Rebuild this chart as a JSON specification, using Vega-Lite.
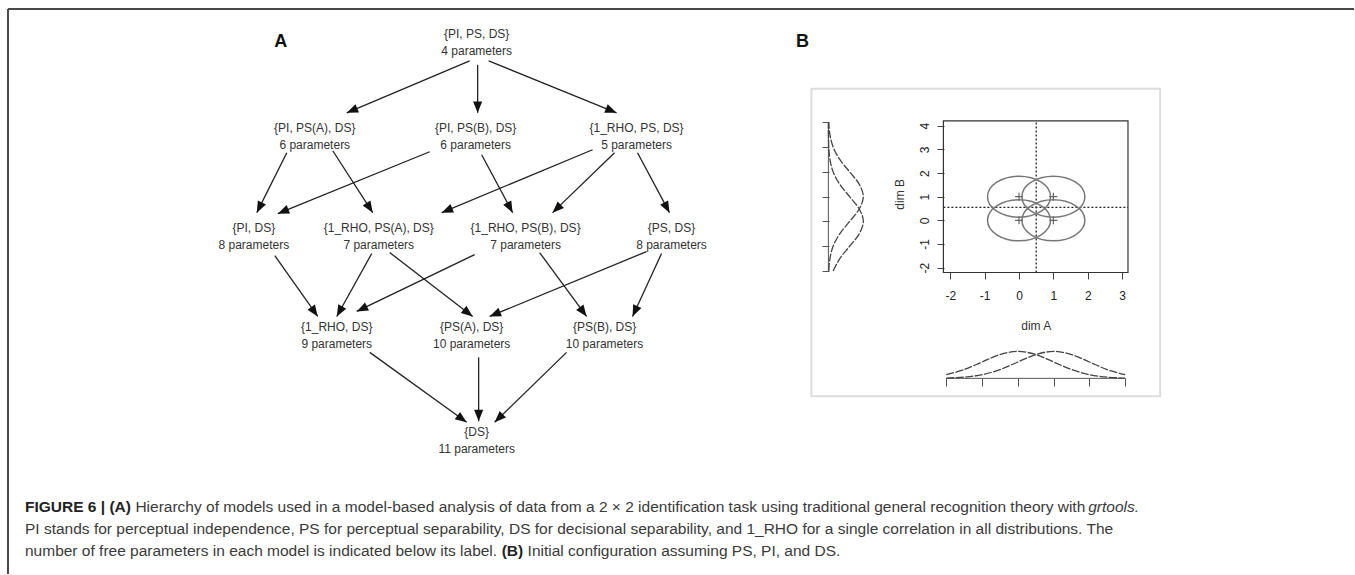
{
  "$schema": "https://vega.github.io/schema/vega-lite/v6.json",
  "width": 1355,
  "height": 575,
  "padding": 0,
  "autosize": {"type": "fit", "contains": "padding"},
  "background": "white",
  "config": {"view": {"stroke": null}, "font": "Liberation Sans"},
  "datasets": {
    "frame": [{"x": 8, "y": 9, "x2": 1355, "y2": 9}, {"x": 8, "y": 9, "x2": 8, "y2": 575}],
    "panelB": [{"x": 812, "y": 89, "x2": 1161, "y2": 397}],
    "edges": [
      {"x": 470, "y": 61, "x2": 347, "y2": 113},
      {"x": 478, "y": 65, "x2": 478, "y2": 113},
      {"x": 489, "y": 61, "x2": 617, "y2": 113},
      {"x": 287, "y": 153, "x2": 257, "y2": 213},
      {"x": 333, "y": 151, "x2": 373, "y2": 213},
      {"x": 430, "y": 152, "x2": 278, "y2": 214},
      {"x": 482, "y": 155, "x2": 513, "y2": 213},
      {"x": 593, "y": 150, "x2": 442, "y2": 213},
      {"x": 615, "y": 153, "x2": 553, "y2": 213},
      {"x": 638, "y": 153, "x2": 670, "y2": 213},
      {"x": 275, "y": 256, "x2": 318, "y2": 317},
      {"x": 372, "y": 254, "x2": 337, "y2": 317},
      {"x": 390, "y": 253, "x2": 473, "y2": 317},
      {"x": 475, "y": 255, "x2": 357, "y2": 312},
      {"x": 540, "y": 253, "x2": 587, "y2": 317},
      {"x": 647, "y": 252, "x2": 490, "y2": 317},
      {"x": 662, "y": 254, "x2": 633, "y2": 317},
      {"x": 370, "y": 353, "x2": 467, "y2": 423},
      {"x": 479, "y": 358, "x2": 479, "y2": 422},
      {"x": 567, "y": 353, "x2": 495, "y2": 423}
    ],
    "nodes": [
      {"x": 477, "y": 34, "t1": "{PI, PS, DS}", "t2": "4 parameters"},
      {"x": 315, "y": 128, "t1": "{PI, PS(A), DS}", "t2": "6 parameters"},
      {"x": 476, "y": 128, "t1": "{PI, PS(B), DS}", "t2": "6 parameters"},
      {"x": 637, "y": 128, "t1": "{1_RHO, PS, DS}", "t2": "5 parameters"},
      {"x": 254, "y": 228, "t1": "{PI, DS}", "t2": "8 parameters"},
      {"x": 379, "y": 228, "t1": "{1_RHO, PS(A), DS}", "t2": "7 parameters"},
      {"x": 526, "y": 228, "t1": "{1_RHO, PS(B), DS}", "t2": "7 parameters"},
      {"x": 672, "y": 228, "t1": "{PS, DS}", "t2": "8 parameters"},
      {"x": 337, "y": 328, "t1": "{1_RHO, DS}", "t2": "9 parameters"},
      {"x": 472, "y": 328, "t1": "{PS(A), DS}", "t2": "10 parameters"},
      {"x": 605, "y": 328, "t1": "{PS(B), DS}", "t2": "10 parameters"},
      {"x": 477, "y": 433, "t1": "{DS}", "t2": "11 parameters"}
    ],
    "letters": [{"x": 281, "y": 42, "t": "A"}, {"x": 803, "y": 42, "t": "B"}],
    "capBold": [{"x": 25, "y": 513, "t": "FIGURE 6 | (A)"}, {"x": 502, "y": 557, "t": "(B)"}],
    "capReg": [
      {"x": 135.5, "y": 513, "t": "Hierarchy of models used in a model-based analysis of data from a 2 × 2 identification task using traditional general recognition theory with"},
      {"x": 25, "y": 535, "t": "PI stands for perceptual independence, PS for perceptual separability, DS for decisional separability, and 1_RHO for a single correlation in all distributions. The"},
      {"x": 25, "y": 557, "t": "number of free parameters in each model is indicated below its label."},
      {"x": 528, "y": 557, "t": "Initial configuration assuming PS, PI, and DS."}
    ],
    "capItal": [{"x": 1089, "y": 513, "t": "grtools."}],
    "box": [{"a0": -2.2, "a1": 3.17, "b0": -2.21, "b1": 4.21}],
    "centers": [{"a": 0, "b": 0}, {"a": 1, "b": 0}, {"a": 0, "b": 1}, {"a": 1, "b": 1}],
    "dlines": [{"a0": 0.5, "a1": 0.5, "b0": -2.21, "b1": 4.21}, {"a0": -2.2, "a1": 3.17, "b0": 0.55, "b1": 0.55}],
    "margB": [
      {"m": 0, "v": -2, "h": 0.135}, {"m": 0, "v": -1.5, "h": 0.325}, {"m": 0, "v": -1, "h": 0.607}, {"m": 0, "v": -0.5, "h": 0.882}, {"m": 0, "v": 0, "h": 1}, {"m": 0, "v": 0.5, "h": 0.882}, {"m": 0, "v": 1, "h": 0.607}, {"m": 0, "v": 1.5, "h": 0.325}, {"m": 0, "v": 2, "h": 0.135}, {"m": 0, "v": 2.5, "h": 0.044}, {"m": 0, "v": 3, "h": 0.011}, {"m": 0, "v": 3.5, "h": 0.002}, {"m": 0, "v": 4, "h": 0.0003},
      {"m": 1, "v": -2, "h": 0.011}, {"m": 1, "v": -1.5, "h": 0.044}, {"m": 1, "v": -1, "h": 0.135}, {"m": 1, "v": -0.5, "h": 0.325}, {"m": 1, "v": 0, "h": 0.607}, {"m": 1, "v": 0.5, "h": 0.882}, {"m": 1, "v": 1, "h": 1}, {"m": 1, "v": 1.5, "h": 0.882}, {"m": 1, "v": 2, "h": 0.607}, {"m": 1, "v": 2.5, "h": 0.325}, {"m": 1, "v": 3, "h": 0.135}, {"m": 1, "v": 3.5, "h": 0.044}, {"m": 1, "v": 4, "h": 0.011}
    ],
    "margA": [
      {"m": 0, "u": -2, "k": 0.135}, {"m": 0, "u": -1.5, "k": 0.325}, {"m": 0, "u": -1, "k": 0.607}, {"m": 0, "u": -0.5, "k": 0.882}, {"m": 0, "u": 0, "k": 1}, {"m": 0, "u": 0.5, "k": 0.882}, {"m": 0, "u": 1, "k": 0.607}, {"m": 0, "u": 1.5, "k": 0.325}, {"m": 0, "u": 2, "k": 0.135}, {"m": 0, "u": 2.5, "k": 0.044}, {"m": 0, "u": 3, "k": 0.011},
      {"m": 1, "u": -2, "k": 0.011}, {"m": 1, "u": -1.5, "k": 0.044}, {"m": 1, "u": -1, "k": 0.135}, {"m": 1, "u": -0.5, "k": 0.325}, {"m": 1, "u": 0, "k": 0.607}, {"m": 1, "u": 0.5, "k": 0.882}, {"m": 1, "u": 1, "k": 1}, {"m": 1, "u": 1.5, "k": 0.882}, {"m": 1, "u": 2, "k": 0.607}, {"m": 1, "u": 2.5, "k": 0.325}, {"m": 1, "u": 3, "k": 0.135}
    ],
    "margBaxis": [{"h": 0, "v0": -2, "v1": 4}],
    "margAaxis": [{"u0": -2, "u1": 3, "k": 0}]
  },
  "resolve": {"scale": {"x": "independent", "y": "independent"}, "axis": {"x": "independent", "y": "independent"}},
  "layer": [
    {
      "encoding": {
        "x": {"field": "x", "type": "quantitative", "scale": {"domain": [0, 1355], "nice": false, "zero": false}, "axis": null},
        "y": {"field": "y", "type": "quantitative", "scale": {"domain": [0, 575], "reverse": true, "nice": false, "zero": false}, "axis": null}
      },
      "layer": [
        {"data": {"name": "frame"}, "mark": {"type": "rule", "stroke": "#4a4a4a", "strokeWidth": 2}, "encoding": {"x2": {"field": "x2"}, "y2": {"field": "y2"}}},
        {"data": {"name": "panelB"}, "mark": {"type": "rect", "fillOpacity": 0, "stroke": "#dddddd", "strokeWidth": 2}, "encoding": {"x2": {"field": "x2"}, "y2": {"field": "y2"}}},
        {"data": {"name": "edges"}, "mark": {"type": "rule", "stroke": "#222222", "strokeWidth": 1.3, "strokeCap": "butt"}, "encoding": {"x2": {"field": "x2"}, "y2": {"field": "y2"}}},
        {
          "data": {"name": "edges"},
          "transform": [{"calculate": "atan2(datum.x2 - datum.x, datum.y - datum.y2) * 180 / PI", "as": "ang"}],
          "mark": {"type": "point", "shape": "M0,0L-0.8,2L0.8,2Z", "size": 130, "filled": true, "fill": "#111111", "strokeWidth": 0, "opacity": 1},
          "encoding": {
            "x": {"field": "x2", "type": "quantitative", "scale": {"domain": [0, 1355], "nice": false, "zero": false}, "axis": null},
            "y": {"field": "y2", "type": "quantitative", "scale": {"domain": [0, 575], "reverse": true, "nice": false, "zero": false}, "axis": null},
            "angle": {"field": "ang", "type": "quantitative", "scale": null}
          }
        },
        {"data": {"name": "nodes"}, "mark": {"type": "text", "fontSize": 12, "color": "#333333", "baseline": "middle", "align": "center"}, "encoding": {"text": {"field": "t1"}}},
        {"data": {"name": "nodes"}, "mark": {"type": "text", "fontSize": 12, "color": "#333333", "baseline": "middle", "align": "center", "dy": 17}, "encoding": {"text": {"field": "t2"}}},
        {"data": {"name": "letters"}, "mark": {"type": "text", "fontSize": 18, "fontWeight": "bold", "color": "#111111", "baseline": "middle", "align": "center"}, "encoding": {"text": {"field": "t"}}},
        {"data": {"name": "capBold"}, "mark": {"type": "text", "fontSize": 15.5, "fontWeight": "bold", "color": "#222222", "baseline": "alphabetic", "align": "left"}, "encoding": {"text": {"field": "t"}}},
        {"data": {"name": "capReg"}, "mark": {"type": "text", "fontSize": 15.5, "color": "#3a3a3a", "baseline": "alphabetic", "align": "left"}, "encoding": {"text": {"field": "t"}}},
        {"data": {"name": "capItal"}, "mark": {"type": "text", "fontSize": 15.5, "fontStyle": "italic", "color": "#3a3a3a", "baseline": "alphabetic", "align": "left"}, "encoding": {"text": {"field": "t"}}}
      ]
    },
    {
      "layer": [
        {
          "data": {"name": "box"},
          "mark": {"type": "rect", "fillOpacity": 0, "stroke": "#333333", "strokeWidth": 1.2},
          "encoding": {
            "x": {"field": "a0", "type": "quantitative", "scale": {"domain": [-29.645, 9.745], "nice": false, "zero": false},
              "axis": {"orient": "bottom", "offset": -302, "values": [-2, -1, 0, 1, 2, 3], "domain": false, "grid": false, "ticks": true, "tickSize": 7, "tickColor": "#444444", "tickWidth": 1, "labelColor": "#222222", "labelFont": "Liberation Sans", "labelFontSize": 12, "labelPadding": 11, "labelExpr": "'' + datum.value", "labelOverlap": false, "labelFlush": false, "title": null}},
            "x2": {"field": "a1"},
            "y": {"field": "b0", "type": "quantitative", "scale": {"domain": [-14.969, 9.323], "nice": false, "zero": false},
              "axis": {"orient": "left", "offset": -944, "values": [-2, -1, 0, 1, 2, 3, 4], "domain": false, "grid": false, "ticks": true, "tickSize": 7, "tickColor": "#444444", "tickWidth": 1, "labelColor": "#222222", "labelFont": "Liberation Sans", "labelFontSize": 12, "labelAngle": 270, "labelAlign": "center", "labelBaseline": "bottom", "labelPadding": 6, "labelExpr": "'' + datum.value", "labelOverlap": false, "labelFlush": false, "title": null}},
            "y2": {"field": "b1"}
          }
        },
        {"data": {"name": "dlines"}, "mark": {"type": "rule", "stroke": "#222222", "strokeWidth": 1.3, "strokeDash": [2, 2]}, "encoding": {"x": {"field": "a0", "type": "quantitative"}, "x2": {"field": "a1"}, "y": {"field": "b0", "type": "quantitative"}, "y2": {"field": "b1"}}},
        {"data": {"name": "centers"}, "mark": {"type": "point", "shape": "M-1,0A1,0.65,0,1,1,1,0A1,0.65,0,1,1,-1,0Z", "size": 3969, "filled": false, "stroke": "#777777", "strokeWidth": 1.5, "opacity": 1}, "encoding": {"x": {"field": "a", "type": "quantitative"}, "y": {"field": "b", "type": "quantitative"}}},
        {"data": {"name": "centers"}, "mark": {"type": "point", "shape": "M-1,0H1M0,-1V1", "size": 64, "filled": false, "stroke": "#666666", "strokeWidth": 1.2, "opacity": 1}, "encoding": {"x": {"field": "a", "type": "quantitative"}, "y": {"field": "b", "type": "quantitative"}}},
        {"data": {"values": [{"a": 0.5, "b": -4.49, "t": "dim A"}]}, "mark": {"type": "text", "fontSize": 12, "color": "#333333", "baseline": "middle", "align": "center"}, "encoding": {"x": {"field": "a", "type": "quantitative"}, "y": {"field": "b", "type": "quantitative"}, "text": {"field": "t"}}},
        {"data": {"values": [{"a": -3.45, "b": 1.1, "t": "dim B"}]}, "mark": {"type": "text", "fontSize": 12, "color": "#333333", "baseline": "middle", "align": "center", "angle": 270}, "encoding": {"x": {"field": "a", "type": "quantitative"}, "y": {"field": "b", "type": "quantitative"}, "text": {"field": "t"}}}
      ]
    },
    {
      "layer": [
        {
          "data": {"name": "margBaxis"},
          "mark": {"type": "rule", "stroke": "#555555", "strokeWidth": 1},
          "encoding": {
            "x": {"field": "h", "type": "quantitative", "scale": {"domain": [-23.686, 15.029], "nice": false, "zero": false}, "axis": null},
            "y": {"field": "v0", "type": "quantitative", "scale": {"domain": [-14.223, 8.934], "nice": false, "zero": false},
              "axis": {"orient": "left", "offset": -829, "values": [-2, -1, 0, 1, 2, 3, 4], "domain": false, "grid": false, "labels": false, "tickSize": 7, "tickColor": "#555555", "tickWidth": 1, "title": null}},
            "y2": {"field": "v1"}
          }
        },
        {
          "data": {"name": "margB"},
          "mark": {"type": "line", "stroke": "#444444", "strokeWidth": 1.3, "strokeDash": [8, 1.5], "interpolate": "catmull-rom"},
          "encoding": {"x": {"field": "h", "type": "quantitative"}, "y": {"field": "v", "type": "quantitative"}, "detail": {"field": "m"}, "order": {"field": "v", "type": "quantitative"}}
        }
      ]
    },
    {
      "layer": [
        {
          "data": {"name": "margAaxis"},
          "mark": {"type": "rule", "stroke": "#555555", "strokeWidth": 1},
          "encoding": {
            "x": {"field": "u0", "type": "quantitative", "scale": {"domain": [-28.453, 9.397], "nice": false, "zero": false},
              "axis": {"orient": "bottom", "offset": -196, "values": [-2, -1, 0, 1, 2, 3], "domain": false, "grid": false, "labels": false, "tickSize": 8, "tickColor": "#555555", "tickWidth": 1, "title": null}},
            "x2": {"field": "u1"},
            "y": {"field": "k", "type": "quantitative", "scale": {"domain": [-7.259, 14.037], "nice": false, "zero": false}, "axis": null}
          }
        },
        {
          "data": {"name": "margA"},
          "mark": {"type": "line", "stroke": "#444444", "strokeWidth": 1.3, "strokeDash": [8, 1.5], "interpolate": "catmull-rom"},
          "encoding": {"x": {"field": "u", "type": "quantitative"}, "y": {"field": "k", "type": "quantitative"}, "detail": {"field": "m"}, "order": {"field": "u", "type": "quantitative"}}
        }
      ]
    }
  ]
}
